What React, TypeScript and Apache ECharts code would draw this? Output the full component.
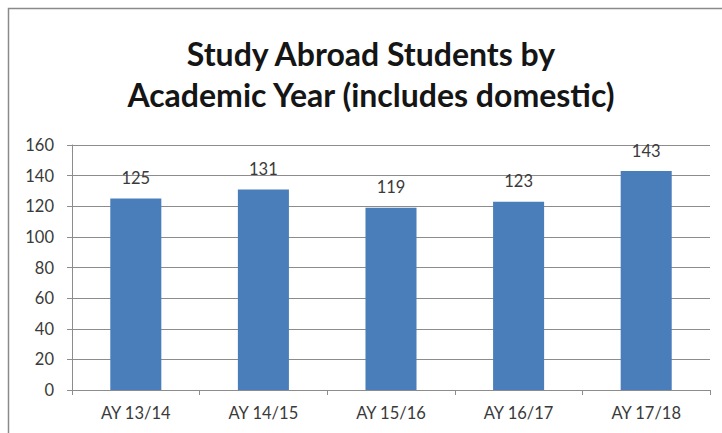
import React, { useEffect, useRef } from "react";
import * as echarts from "echarts";

const categories = ["AY 13/14", "AY 14/15", "AY 15/16", "AY 16/17", "AY 17/18"];
const students = [125, 131, 119, 123, 143];
const titleLines = ["Study Abroad Students by", "Academic Year (includes domestic)"];

export default function App() {
  const ref = useRef<HTMLDivElement>(null);
  useEffect(() => {
    if (!ref.current) return;
    const chart = echarts.init(ref.current, null, { renderer: "svg" });
    chart.setOption({
      animation: false,
      backgroundColor: "#ffffff",
      title: {
        text: titleLines.join("\n"),
        left: 366,
        textAlign: "center",
        top: 28,
        textStyle: {
          fontFamily: "Lato",
          fontWeight: "bold",
          fontSize: 32,
          lineHeight: 41,
          color: "#151515",
        },
      },
      graphic: [
        {
          type: "rect",
          shape: { x: 8.5, y: 8.5, width: 740, height: 450 },
          style: { fill: "none", stroke: "#8a8a8a", lineWidth: 1.5 },
          silent: true,
        },
      ],
      grid: { left: 72, right: 12, top: 145, bottom: 43 },
      xAxis: {
        type: "category",
        data: categories,
        axisLine: { lineStyle: { color: "#8c8c8c", width: 1 } },
        axisTick: { show: true, alignWithLabel: false, length: 5, lineStyle: { color: "#8c8c8c" } },
        axisLabel: {
          color: "#3a3a3a",
          fontFamily: "Lato",
          fontSize: 16.5,
          margin: 14,
        },
      },
      yAxis: {
        type: "value",
        min: 0,
        max: 160,
        interval: 20,
        axisLine: { show: true, lineStyle: { color: "#8c8c8c", width: 1 } },
        axisTick: { show: true, length: 5, lineStyle: { color: "#8c8c8c" } },
        axisLabel: {
          color: "#3a3a3a",
          fontFamily: "Lato",
          fontSize: 16.5,
          margin: 18,
        },
        splitLine: { lineStyle: { color: "#8c8c8c", width: 1 } },
      },
      series: [
        {
          type: "bar",
          data: students,
          barWidth: "40%",
          itemStyle: { color: "#4a7ebb" },
          label: {
            show: true,
            position: "top",
            distance: 12,
            color: "#3a3a3a",
            fontFamily: "Lato",
            fontSize: 16.5,
          },
        },
      ],
    });
    return () => chart.dispose();
  }, []);
  return (
    <div
      ref={ref}
      style={{ position: "fixed", left: 0, top: 0, width: 722, height: 433 }}
    />
  );
}
